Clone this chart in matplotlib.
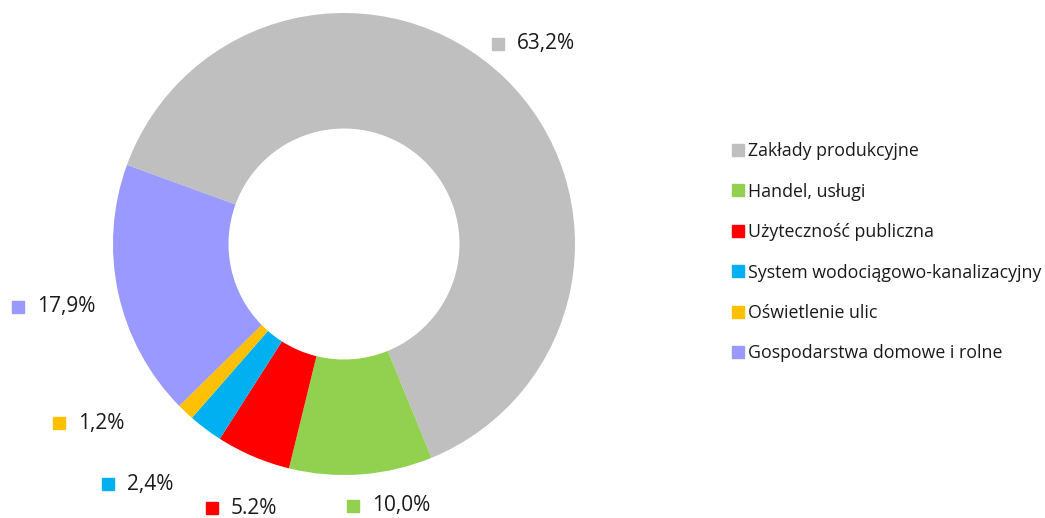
import matplotlib.pyplot as plt

plt.rcParams['font.family'] = ['Open Sans', 'DejaVu Sans']

categories = ['Zakłady produkcyjne', 'Handel, usługi', 'Użyteczność publiczna',
              'System wodociągowo-kanalizacyjny', 'Oświetlenie ulic',
              'Gospodarstwa domowe i rolne']
shares = [63.2, 10.0, 5.2, 2.4, 1.2, 17.9]
pct_labels = ['63,2%', '10,0%', '5.2%', '2,4%', '1,2%', '17,9%']
colors = ['#bfbfbf', '#92d050', '#ff0000', '#00b0f0', '#ffc000', '#9999ff']

# label anchor positions (pie radius = 1)
label_pos = [(0.667, 0.866), (0.039, -1.134), (-0.571, -1.143),
             (-1.022, -1.039), (-1.234, -0.775), (-1.411, -0.272)]

W, H = 1045, 518
cx, cy, R = 344, 244, 231

fig = plt.figure(figsize=(W / 100, H / 100), dpi=100)
ax = fig.add_axes([0, 0, 1, 1])
ax.pie(shares, colors=colors, startangle=160, counterclock=False,
       radius=1.0, wedgeprops=dict(width=0.5, linewidth=0))
ax.set_xlim(-cx / R, (W - cx) / R)
ax.set_ylim(-(H - cy) / R, cy / R)
ax.set_aspect('auto')
ax.axis('off')

for (x, y), t, c in zip(label_pos, pct_labels, colors):
    ax.plot(x, y, marker='s', ms=8.5, color=c, linestyle='none')
    ax.annotate(t, xy=(x, y), xytext=(13.5, 0), textcoords='offset points',
                va='center', ha='left', fontsize=15, color='#1a1a1a')

# legend
for i, (name, c) in enumerate(zip(categories, colors)):
    py = 150 + 40.4 * i
    lx = (738 - cx) / R
    ly = (cy - py) / R
    ax.plot(lx, ly, marker='s', ms=8.5, color=c, linestyle='none')
    ax.annotate(name, xy=(lx, ly - 0.006), xytext=(7, 0), textcoords='offset points',
                va='center', ha='left', fontsize=12.8, color='#1a1a1a')

fig.savefig('out.png', dpi=100)
